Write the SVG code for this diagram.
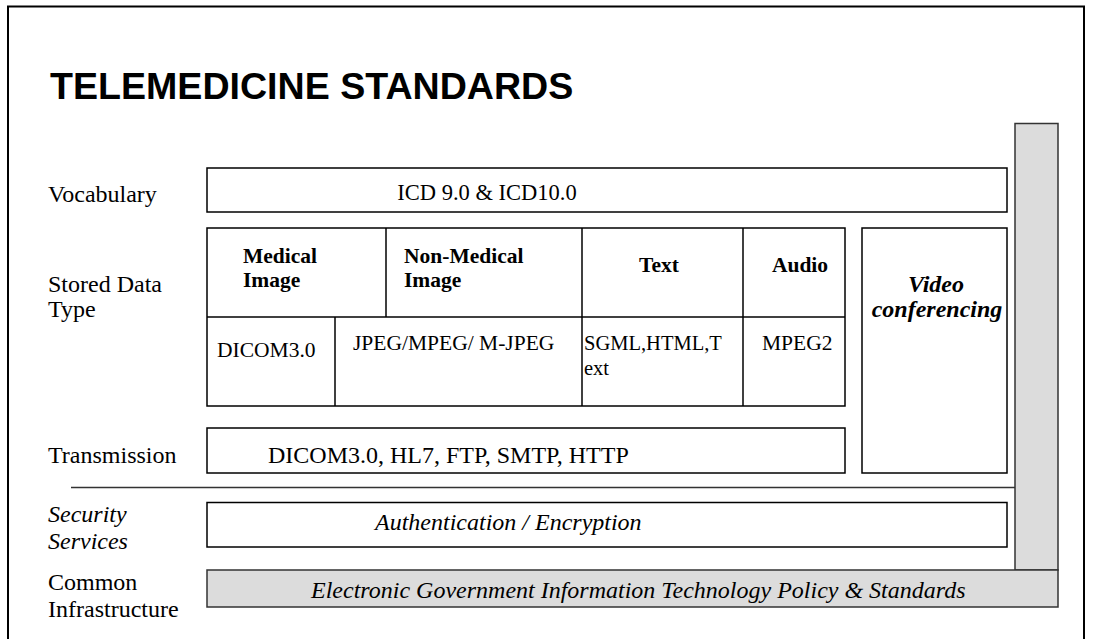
<svg xmlns="http://www.w3.org/2000/svg" width="1093" height="639" viewBox="0 0 1093 639">
<style>
.box{fill:#ffffff;stroke:#000000;stroke-width:1.5}
.grey{fill:#dcdcdc;stroke:#333333;stroke-width:1.5}
.ln{stroke:#000000;stroke-width:1.5;fill:none}
.t{font-size:24px;fill:#000}
.ti{font-size:24px;font-style:italic;fill:#000}
.c{font-size:21.5px;fill:#000}
.h{font-size:21.5px;font-weight:bold;fill:#000}
.title{font-family:'Liberation Sans',Arial,sans-serif;font-size:37.6px;font-weight:bold;fill:#000}
</style>
<rect x="0" y="0" width="1093" height="639" fill="#ffffff"/>
<rect id="frame" x="8" y="6.5" width="1076" height="645" fill="none" stroke="#000" stroke-width="2"/>
<text class="title" x="50" y="99">TELEMEDICINE STANDARDS</text>

<g font-family="Liberation Serif, Tinos, Times New Roman, DejaVu Serif, serif">
<g id="labels">
<text class="t" x="48" y="202">Vocabulary</text>
<text class="t" x="48" y="292">Stored Data</text>
<text class="t" x="48" y="317">Type</text>
<text class="t" x="48" y="463">Transmission</text>
<text class="ti" x="48" y="522">Security</text>
<text class="ti" x="48" y="549">Services</text>
<text class="t" x="48" y="590">Common</text>
<text class="t" x="48" y="617">Infrastructure</text>
</g>

<g id="side-bar">
<rect class="grey" x="1015" y="123.5" width="43" height="446.5"/>
</g>

<g id="vocabulary">
<rect class="box" x="207" y="168" width="800" height="44"/>
<text class="t" x="487" y="200" text-anchor="middle" style="font-size:22.5px">ICD 9.0 &amp; ICD10.0</text>
</g>

<g id="stored-data">
<rect class="box" x="207" y="228" width="638" height="178"/>
<line class="ln" x1="207" y1="317" x2="845" y2="317"/>
<line class="ln" x1="386" y1="228" x2="386" y2="317"/>
<line class="ln" x1="335" y1="317" x2="335" y2="406"/>
<line class="ln" x1="582" y1="228" x2="582" y2="406"/>
<line class="ln" x1="743" y1="228" x2="743" y2="406"/>
<text class="h" x="243" y="263">Medical</text>
<text class="h" x="243" y="287">Image</text>
<text class="h" x="404" y="263">Non-Medical</text>
<text class="h" x="404" y="287">Image</text>
<text class="h" x="659" y="272" text-anchor="middle">Text</text>
<text class="h" x="800" y="272" text-anchor="middle">Audio</text>
<text class="c" x="217" y="357">DICOM3.0</text>
<text class="c" x="353" y="350">JPEG/MPEG/ M-JPEG</text>
<text class="c" x="584" y="350" style="font-size:20.5px">SGML,HTML,T</text>
<text class="c" x="584" y="375" style="font-size:20.5px">ext</text>
<text class="c" x="762" y="350">MPEG2</text>
</g>

<g id="video-conferencing">
<rect class="box" x="862" y="228" width="145" height="245"/>
<text class="t" x="936" y="292" text-anchor="middle" font-weight="bold" font-style="italic">Video</text>
<text class="t" x="937" y="317" text-anchor="middle" font-weight="bold" font-style="italic">conferencing</text>
</g>

<g id="transmission">
<rect class="box" x="207" y="428" width="638" height="45"/>
<text class="t" x="268" y="463">DICOM3.0, HL7, FTP, SMTP, HTTP</text>
</g>

<g id="connectors">
<line x1="71" y1="487.5" x2="1015" y2="487.5" stroke="#333333" stroke-width="1.5"/>
</g>

<g id="security">
<rect class="box" x="207" y="502.5" width="800" height="44.5"/>
<text class="ti" x="375" y="530">Authentication / Encryption</text>
</g>

<g id="infrastructure">
<rect class="grey" x="207" y="570" width="851" height="37"/>
<text class="ti" x="311" y="598">Electronic Government Information Technology Policy &amp; Standards</text>
</g>
</g>
</svg>
